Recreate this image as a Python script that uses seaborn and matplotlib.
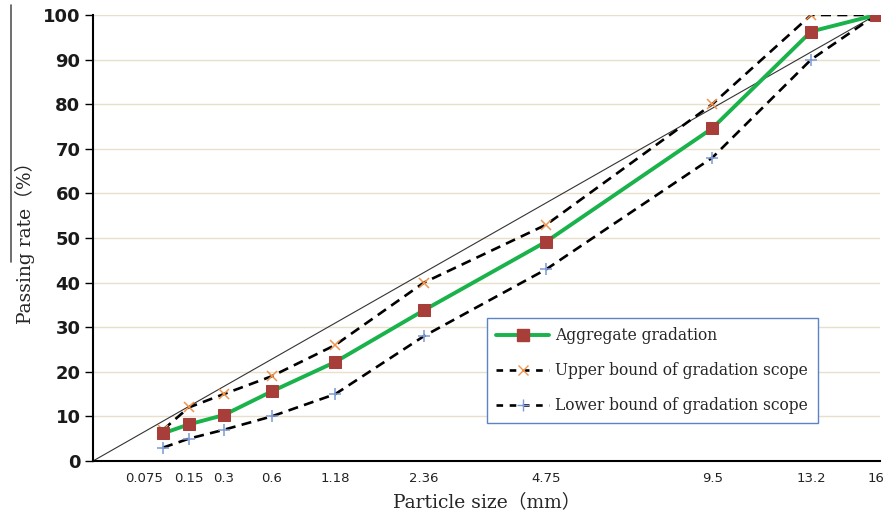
import numpy as np
import pandas as pd
import seaborn as sns
import matplotlib
matplotlib.use("Agg")
import matplotlib.pyplot as plt
from matplotlib.lines import Line2D

sizes = [0.075, 0.15, 0.3, 0.6, 1.18, 2.36, 4.75, 9.5, 13.2, 16]
size_labels = ["0.075", "0.15", "0.3", "0.6", "1.18", "2.36", "4.75", "9.5", "13.2", "16"]
aggregate = [6.2, 8.2, 10.3, 15.6, 22.2, 33.8, 49.2, 74.6, 96.3, 100]
upper = [7, 12, 15, 19, 26, 40, 53, 80, 100, 100]
lower = [3, 5, 7, 10, 15, 28, 43, 68, 90, 100]
max_density = [0, 100]
power = 0.45

sns.set_theme(style="white")
plt.rcParams['font.family'] = ['DejaVu Sans', 'Noto Sans CJK SC']

fig = plt.figure(figsize=(8.89, 5.22), dpi=100)
ax = fig.add_axes([93/889, 1-461/522, (880-93)/889, (461-15)/522])

xs = np.array(sizes) ** power
df = pd.DataFrame({"x": xs, "agg": aggregate, "up": upper, "lo": lower})

for yv in range(10, 101, 10):
    ax.axhline(yv, color="#E8E0C8", lw=1.0, zorder=0)

ax.plot([0, 16 ** power], max_density, color="#333333", lw=0.8, zorder=1)

green = "#19B24B"
sq = "#A83E3A"
dash = (0, (3.8, 2.4))
sns.lineplot(data=df, x="x", y="up", ax=ax, color="black", lw=1.9,
             linestyle=dash, marker="x", markersize=7.5, markeredgecolor="#F0944E",
             markeredgewidth=1.1, zorder=3)
sns.lineplot(data=df, x="x", y="lo", ax=ax, color="black", lw=1.9,
             linestyle=dash, marker="+", markersize=8.5, markeredgecolor="#7C9AD6",
             markeredgewidth=1.1, zorder=3)
sns.lineplot(data=df, x="x", y="agg", ax=ax, color=green, lw=2.8,
             marker="s", markersize=8, markerfacecolor=sq, markeredgecolor=sq, zorder=4)

ax.set_xlim(0, 3.50)
ax.set_ylim(0, 100)
ax.set_yticks(range(0, 101, 10))
ax.set_xticks(xs)
ax.set_xticklabels(size_labels, fontsize=9.5, color="#222222")
xt = ax.get_xticklabels()
xt[0].set_horizontalalignment("right")
for t in ax.get_yticklabels():
    t.set_fontweight("bold")
    t.set_fontsize(13)
    t.set_color("#1a1a1a")
ax.tick_params(axis="y", which="major", direction="out", length=6, width=1, color="black", pad=3, left=True)
ax.tick_params(axis="x", length=0, pad=8)

for s in ["top", "right"]:
    ax.spines[s].set_visible(False)
for s in ["left", "bottom"]:
    ax.spines[s].set_color("black")
    ax.spines[s].set_linewidth(1.5)

ax.set_xlabel("Particle size（mm）", family=["DejaVu Serif", "Noto Sans CJK SC"], fontsize=13.5, labelpad=6)
ax.set_ylabel("Passing rate（%）", family=["DejaVu Serif", "Noto Sans CJK SC"], fontsize=13.5, labelpad=6)

handles = [
    Line2D([], [], color=green, lw=2.8, marker="s", markersize=8, markerfacecolor=sq, markeredgecolor=sq),
    Line2D([], [], color="black", lw=1.9, linestyle=(0, (2.5, 2.5)), marker="x", markersize=7,
           markeredgecolor="#F0944E"),
    Line2D([], [], color="black", lw=1.9, linestyle=(0, (2.5, 2.5)), marker="+", markersize=8,
           markeredgecolor="#7C9AD6"),
]
labels = ["Aggregate gradation", "Upper bound of gradation scope", "Lower bound of gradation scope"]
leg = ax.legend(handles, labels, loc="upper left", bbox_to_anchor=((487-93)/787, (461-318)/446),
                prop={"family": "DejaVu Serif", "size": 11.2}, frameon=True, fancybox=False,
                edgecolor="#5B84C4", framealpha=1, borderpad=0.6, labelspacing=1.15,
                handlelength=3.4, handletextpad=0.4, borderaxespad=0)
leg.get_frame().set_linewidth(1.0)

fig.add_artist(Line2D([11/889, 11/889], [1-5/522, 1-262/522], color="#555555", lw=1.2))

fig.savefig("out.png", dpi=100)
